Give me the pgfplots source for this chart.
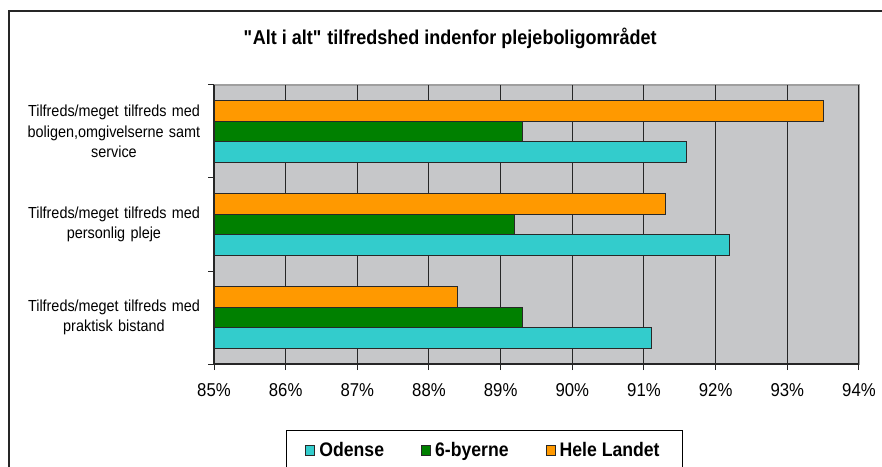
\documentclass[border=0pt]{standalone}
\usepackage{fontspec}
\setmainfont{Liberation Sans}[FakeStretch=0.9]
\usepackage{pgfplots}
\pgfplotsset{compat=1.18}
\definecolor{hele}{RGB}{255,153,0}
\definecolor{byer}{RGB}{0,128,0}
\definecolor{odense}{RGB}{51,204,204}
\definecolor{plotbg}{RGB}{198,199,201}
\definecolor{edge}{RGB}{40,40,40}
\pgfplotsset{sqlegend/.style={legend image code/.code={\draw[##1] (0pt,-2.6pt) rectangle (4.5pt,2.6pt);}}}
% straight double quote, bypassing the TeX ligature mapping
\newcommand\sq{\XeTeXglyph\XeTeXcharglyph"22\relax}

\begin{document}
\begin{tikzpicture}[x=1pt,y=1pt]
\useasboundingbox (0,0) rectangle (441,233);
\draw[line width=1pt, black!85] (4.25,-2) -- (4.25,227.5) -- (443,227.5);
\node[font=\fontsize{10}{12}\selectfont\bfseries] at (225,214)
  {\sq Alt i alt\sq\ tilfredshed indenfor plejeboligområdet};
\begin{axis}[
  at={(107pt,51pt)}, anchor=south west,
  scale only axis, width=322.5pt, height=139.5pt,
  xbar, bar width=0.22,
  xmin=85, xmax=94, ymin=-0.5, ymax=2.5,
  xtick={85,86,87,88,89,90,91,92,93,94},
  xticklabels={85\%,86\%,87\%,88\%,89\%,90\%,91\%,92\%,93\%,94\%},
  ytick={-0.5,0.5,1.5,2.5}, yticklabels={},
  extra y ticks={0,1,2},
  extra y tick labels={{Tilfreds/meget tilfreds med\\praktisk bistand},
               {Tilfreds/meget tilfreds med\\personlig pleje},
               {Tilfreds/meget tilfreds med\\boligen,omgivelserne samt\\service}},
  extra y tick style={major tick length=0pt},
  major tick length=3pt,
  tick align=outside,
  xtick pos=bottom, ytick pos=left,
  tick style={black!85, line width=0.5pt},
  xticklabel style={font=\fontsize{9.3}{11}\selectfont, yshift=-3.2pt},
  yticklabel style={font=\fontsize{8}{10.35}\selectfont, align=center, text width=88pt, xshift=-2.5pt},
  xmajorgrids, major grid style={black!85, line width=0.5pt},
  axis lines*=left,
  x axis line style={-, black!85, line width=0.6pt},
  y axis line style={-, black!85, line width=0.6pt},
  axis background/.style={fill=plotbg, draw=gray!75, line width=0.6pt},
  legend columns=3,
  legend style={at={(0.4194,-0.2366)}, anchor=north, draw=black, line width=0.5pt,
    font=\fontsize{9.8}{11}\selectfont\bfseries,
    /tikz/every even column/.append style={column sep=16.5pt},
    /tikz/every odd column/.append style={column sep=0pt},
    inner xsep=9.2pt, inner ysep=3.8pt},
  legend cell align=left,
]
\addplot[fill=odense, draw=edge, line width=0.5pt, bar shift=-0.22, sqlegend]
  coordinates {(91.1,0) (92.2,1) (91.6,2)};
\addlegendentry{Odense}
\addplot[fill=byer, draw=edge, line width=0.5pt, bar shift=0, sqlegend]
  coordinates {(89.3,0) (89.2,1) (89.3,2)};
\addlegendentry{6-byerne}
\addplot[fill=hele, draw=edge, line width=0.5pt, bar shift=0.22, sqlegend]
  coordinates {(88.4,0) (91.3,1) (93.5,2)};
\addlegendentry{Hele Landet}
\end{axis}
\end{tikzpicture}
\end{document}
